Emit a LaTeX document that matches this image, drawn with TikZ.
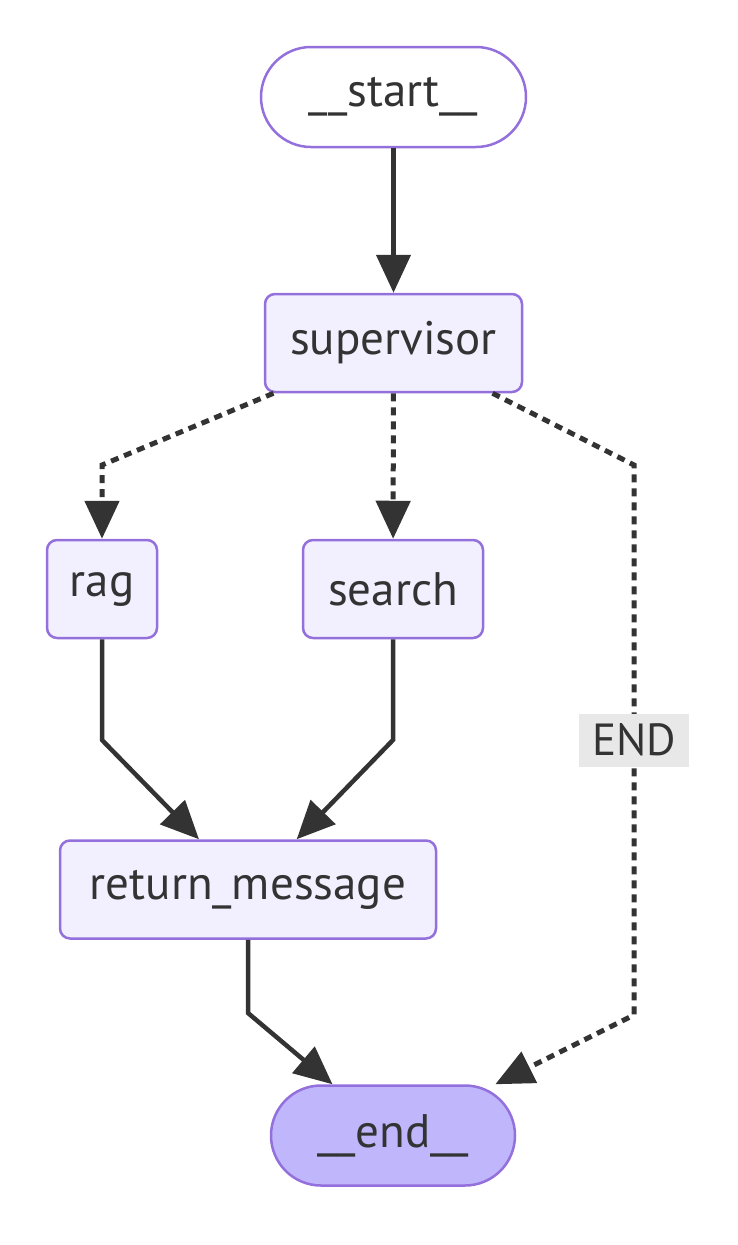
\documentclass[tikz,border=0pt]{standalone}
\usepackage{fontspec}
\setmainfont{PT Sans}
\usetikzlibrary{arrows.meta}
\definecolor{nodefill}{HTML}{F2F0FF}
\definecolor{endfill}{HTML}{BFB6FC}
\definecolor{border}{HTML}{9370DB}
\definecolor{ink}{HTML}{333333}
\definecolor{lblbg}{HTML}{E8E8E8}
\tikzset{
  box/.style={draw=border, line width=2.5pt, fill=nodefill, rounded corners=10pt,
    minimum height=98pt, inner sep=0pt, text=ink, font=\fontsize{47}{56}\selectfont},
  stadium/.style={box, rounded corners=50pt, minimum height=100pt},
  edgeline/.style={draw=ink, line width=4.5pt, -{Triangle[length=38pt,width=34pt]}},
  dotline/.style={edgeline, line width=5pt, dash pattern=on 8pt off 6pt},
  lbl/.style={fill=lblbg, text=ink, inner sep=0pt, minimum width=110pt, minimum height=53pt,
    font=\fontsize{45}{54}\selectfont}
}
\begin{document}
\begin{tikzpicture}[x=1pt,y=-1pt]
\useasboundingbox (0,0) rectangle (738,1245);
\node[stadium, fill=white, minimum width=265pt] (start) at (393.5,97) {\_\_start\_\_};
\node[box, minimum width=257pt] (sup) at (393.5,343) {supervisor};
\node[box, minimum width=110pt] (rag) at (102,589) {rag};
\node[box, minimum width=180pt] (search) at (393,589) {search};
\node[box, minimum width=376pt] (rm) at (248,889.5) {return\_message};
\node[stadium, fill=endfill, minimum width=244pt] (end) at (393,1135.5) {\_\_end\_\_};

\coordinate (b1) at (102,465);
\coordinate (b2) at (634,465);
\coordinate (b3) at (634,1015);
\coordinate (b4) at (102,740);
\coordinate (b5) at (393,740);
\coordinate (b6) at (248,1013);

\draw[edgeline] (start) -- (sup);
\draw[dotline] (sup) -- (b1) -- (rag);
\draw[dotline] (sup) -- (search);
\draw[dotline] (sup) -- (b2) -- node[lbl] (endlbl) {END} (b3) -- (end);
\draw[edgeline] (rag) -- (b4) -- (rm);
\draw[edgeline] (search) -- (b5) -- (rm);
\draw[edgeline] (rm) -- (b6) -- (end);
\end{tikzpicture}
\end{document}
